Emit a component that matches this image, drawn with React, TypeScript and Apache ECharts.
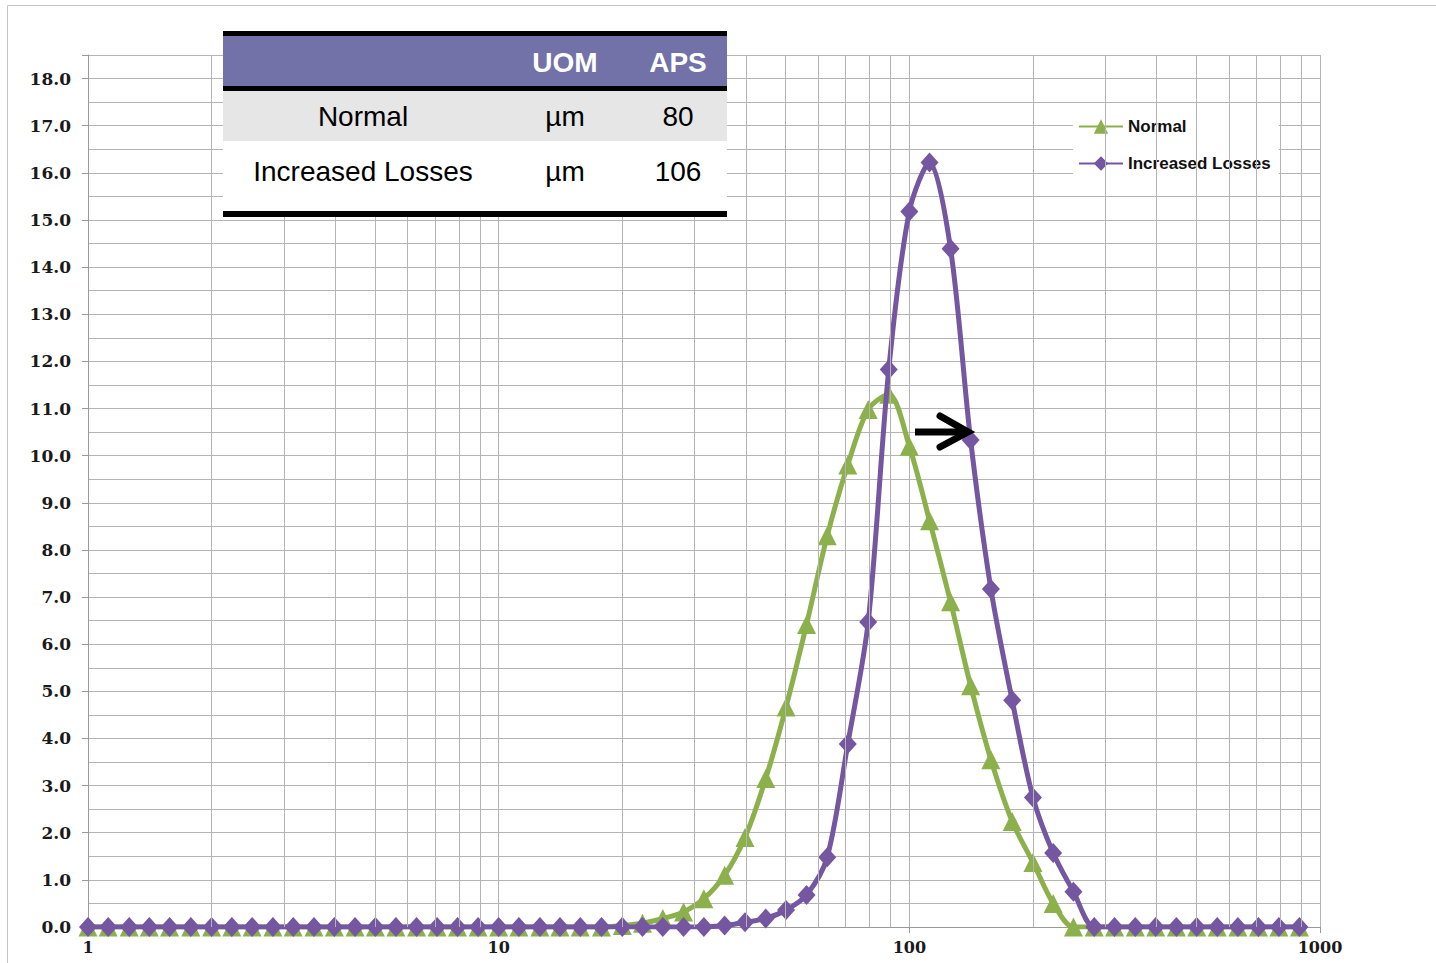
import React, { useEffect, useRef } from 'react';
import * as echarts from 'echarts';

// Particle size classes (µm), log-spaced
const particleSizes = [
  1, 1.12, 1.26, 1.41, 1.58, 1.78, 2, 2.24, 2.51, 2.82,
  3.16, 3.55, 3.98, 4.47, 5.01, 5.62, 6.31, 7.08, 7.94, 8.91,
  10, 11.2, 12.6, 14.1, 15.8, 17.8, 20, 22.4, 25.1, 28.2,
  31.6, 35.5, 39.8, 44.7, 50.1, 56.2, 63.1, 70.8, 79.4, 89.1,
  100, 112, 126, 141, 158, 178, 200, 224, 251, 282,
  316, 355, 398, 447, 501, 562, 631, 708, 794, 891,
];

// Distribution (%) per size class
const normalValues = [
  0, 0, 0, 0, 0, 0, 0, 0, 0, 0,
  0, 0, 0, 0, 0, 0, 0, 0, 0, 0,
  0, 0, 0, 0, 0, 0, 0.03, 0.08, 0.18, 0.32,
  0.6, 1.1, 1.9, 3.15, 4.67, 6.42, 8.3, 9.8, 10.98, 11.3,
  10.2, 8.62, 6.9, 5.12, 3.55, 2.24, 1.37, 0.5, 0, 0,
  0, 0, 0, 0, 0, 0, 0, 0, 0, 0,
];

const increasedLossesValues = [
  0, 0, 0, 0, 0, 0, 0, 0, 0, 0,
  0, 0, 0, 0, 0, 0, 0, 0, 0, 0,
  0, 0, 0, 0, 0, 0, 0, 0, 0, 0,
  0, 0.03, 0.1, 0.18, 0.36, 0.68, 1.48, 3.88, 6.47, 11.83,
  15.18, 16.22, 14.39, 10.33, 7.17, 4.81, 2.75, 1.57, 0.75, 0,
  0, 0, 0, 0, 0, 0, 0, 0, 0, 0,
];

// Intermediate log gridlines
const minorGridSizes = [2, 3, 4, 5, 6, 7, 8, 9, 20, 30, 40, 50, 60, 70, 80, 90, 200, 300, 400, 500, 600, 700, 800, 900];

// Summary table
const tableHeader = ['', 'UOM', 'APS'];
const tableRows = [
  ['Normal', 'µm', '80'],
  ['Increased Losses', 'µm', '106'],
];

const GREEN = '#8cb04b';
const PURPLE = '#7456a1';
const GRID = '#b4b4b4';
const LABEL_FONT = '"DejaVu Serif", serif';
const TOP_Z = 100;

export default function App() {
  const ref = useRef<HTMLDivElement>(null);

  useEffect(() => {
    document.body.style.margin = '0';
    if (!ref.current) return;
    const chart = echarts.init(ref.current, null, { renderer: 'svg' });

    const colX = [363, 565, 678];
    const tableLeft = 223;
    const tableWidth = 504;

    const band = (y: number, h: number, fill: string) => ({
      type: 'rect', z: TOP_Z, silent: true,
      shape: { x: tableLeft, y, width: tableWidth, height: h }, style: { fill },
    });

    const tableGraphics: any[] = [
      band(31, 5, '#000000'),
      band(36, 50, '#7272a9'),
      band(86, 5, '#000000'),
      band(91, 50, '#e6e6e6'),
      band(141, 70, '#ffffff'),
      band(211, 6, '#000000'),
    ];
    tableHeader.forEach((t, i) => {
      if (!t) return;
      tableGraphics.push({
        type: 'text', z: TOP_Z + 1, x: colX[i], y: 62,
        style: { text: t, fill: '#ffffff', font: 'bold 28px "Liberation Sans", Arial, sans-serif', align: 'center', verticalAlign: 'middle' },
      });
    });
    const rowY = [116, 171];
    tableRows.forEach((row, r) => {
      row.forEach((t, i) => {
        tableGraphics.push({
          type: 'text', z: TOP_Z + 1, x: colX[i], y: rowY[r],
          style: { text: t, fill: '#000000', font: '28px "Liberation Sans", Arial, sans-serif', align: 'center', verticalAlign: 'middle' },
        });
      });
    });

    const option: any = {
      animation: false,
      backgroundColor: '#ffffff',
      grid: { left: 88, right: 116, top: 55, bottom: 36, containLabel: false },
      legend: {
        data: ['Normal', 'Increased Losses'],
        orient: 'vertical',
        left: 1073,
        top: 108,
        padding: [10, 8, 10, 5],
        backgroundColor: '#ffffff',
        itemWidth: 44,
        itemHeight: 18,
        itemGap: 20,
        textStyle: { fontFamily: '"Liberation Sans", Arial, sans-serif', fontWeight: 'bold', fontSize: 17, color: '#111' },
      },
      xAxis: {
        type: 'log',
        logBase: 10,
        min: 1,
        max: 1000,
        axisLine: { show: true, lineStyle: { color: '#9a9a9a', width: 1 } },
        axisTick: { show: true, length: 6, lineStyle: { color: '#9a9a9a' } },
        axisLabel: {
          fontFamily: LABEL_FONT, fontWeight: 'bold', fontSize: 16, color: '#1a1a1a', margin: 12,
          formatter: (v: number) => String(Math.round(v)),
        },
        splitLine: { show: true, lineStyle: { color: GRID, width: 1 } },
      },
      yAxis: {
        type: 'value',
        min: 0,
        max: 18.5,
        interval: 1,
        axisLine: { show: true, lineStyle: { color: '#9a9a9a', width: 1 } },
        axisTick: { show: true, length: 6, lineStyle: { color: '#9a9a9a' } },
        minorTick: { show: false, splitNumber: 2 },
        minorSplitLine: { show: true, lineStyle: { color: GRID, width: 1 } },
        splitLine: { show: true, lineStyle: { color: GRID, width: 1 } },
        axisLabel: {
          fontFamily: LABEL_FONT, fontWeight: 'bold', fontSize: 17, color: '#1a1a1a', margin: 17,
          formatter: (v: number) => (Number.isInteger(v) ? v.toFixed(1) : ''),
        },
      },
      series: [
        {
          name: 'minor-grid',
          type: 'line',
          data: [],
          z: 0,
          silent: true,
          markLine: {
            silent: true,
            symbol: 'none',
            label: { show: false },
            lineStyle: { color: GRID, width: 1, type: 'solid' },
            data: minorGridSizes.map((v) => ({ xAxis: v })),
          },
        },
        {
          name: 'Normal',
          type: 'line',
          data: particleSizes.map((x, i) => [x, normalValues[i]]),
          smooth: 0.3,
          symbol: 'triangle',
          symbolSize: 19,
          color: GREEN,
          lineStyle: { color: GREEN, width: 5 },
          itemStyle: { color: GREEN },
          z: 3,
        },
        {
          name: 'Increased Losses',
          type: 'line',
          data: particleSizes.map((x, i) => [x, increasedLossesValues[i]]),
          smooth: 0.3,
          symbol: 'diamond',
          symbolSize: [18, 20],
          color: PURPLE,
          lineStyle: { color: PURPLE, width: 5 },
          itemStyle: { color: PURPLE },
          z: 4,
        },
      ],
      graphic: [
        {
          type: 'rect', z: 0, silent: true,
          shape: { x: 7.5, y: 5.5, width: 1500, height: 1000 },
          style: { fill: 'none', stroke: '#c4c4c4', lineWidth: 1 },
        },
        ...tableGraphics,
        { type: 'line', z: TOP_Z, silent: true, shape: { x1: 915, y1: 432, x2: 965, y2: 432 }, style: { stroke: '#000', lineWidth: 7 } },
        {
          type: 'polyline', z: TOP_Z, silent: true,
          shape: { points: [[940, 416], [968, 432], [940, 447]] },
          style: { stroke: '#000', lineWidth: 7, fill: 'none', lineCap: 'round', lineJoin: 'miter' },
        },
      ],
    };

    chart.setOption(option);
    return () => chart.dispose();
  }, []);

  return <div ref={ref} style={{ width: 1436, height: 963 }} />;
}
